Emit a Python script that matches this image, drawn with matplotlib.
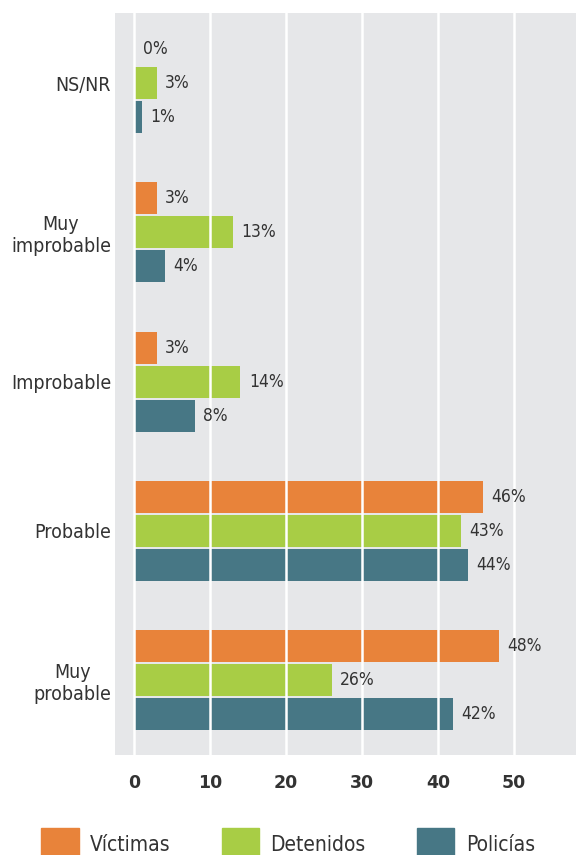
from matplotlib import pyplot as plt
from matplotlib.patches import Patch
from matplotlib.font_manager import FontProperties
import numpy as np

categorias = ['NS/NR', 'Muy\nimprobable', 'Improbable', 'Probable', 'Muy\nprobable']
victimas = [0, 3, 3, 46, 48]
detenidos = [3, 13, 14, 43, 26]
policias = [1, 4, 8, 44, 42]

series = ['Víctimas', 'Detenidos', 'Policías']
colores = ['#E8833A', '#A8CD45', '#477785']
ticks_x = [0, 10, 20, 30, 40, 50]

TEXTO = '#333333'


def fuente(size):
    return FontProperties(family='DejaVu Sans', stretch='condensed', size=size)


def main():
    fig = plt.figure(figsize=(5.76, 8.55), dpi=100)
    ax = fig.add_axes([0.2, 0.117, 0.8, 0.868])
    ax.set_facecolor('#E6E7E9')

    y = np.arange(len(categorias))
    alto = 0.215
    paso = 0.228
    datos = [victimas, detenidos, policias]

    for i, (valores, color, nombre) in enumerate(zip(datos, colores, series)):
        pos = y + (i - 1) * paso
        ax.barh(pos, valores, height=alto, color=color, label=nombre, zorder=2)
        for p, v in zip(pos, valores):
            ax.annotate(f'{v}%', (v, p), xytext=(6, 0), textcoords='offset points',
                        va='center', ha='left', fontproperties=fuente(12.5),
                        color=TEXTO, zorder=5)

    # lineas blancas por encima de las barras
    for t in ticks_x:
        ax.axvline(t, color='white', lw=1.8, zorder=3)

    ax.set_xlim(-2.5, 58.2)
    ax.set_ylim(4.5, -0.47)
    ax.set_xticks(ticks_x)
    ax.set_xticklabels([str(t) for t in ticks_x], fontsize=12.5, fontweight='bold', color=TEXTO)
    ax.set_yticks(y)
    ax.set_yticklabels(categorias, fontproperties=fuente(14), color=TEXTO,
                       multialignment='center')
    ax.tick_params(axis='both', length=0)
    ax.tick_params(axis='x', pad=14)
    ax.tick_params(axis='y', pad=3)
    for s in ax.spines.values():
        s.set_visible(False)

    handles = [Patch(color=c, label=n) for c, n in zip(colores, series)]
    fig.legend(handles=handles, loc='lower center', bbox_to_anchor=(0.5, -0.028), ncol=3,
               frameon=False, handlelength=1.8, handleheight=2.0, handletextpad=0.55,
               columnspacing=2.45, prop=fuente(15), labelcolor=TEXTO)

    plt.savefig('out.png', dpi=100)


if __name__ == '__main__':
    main()
